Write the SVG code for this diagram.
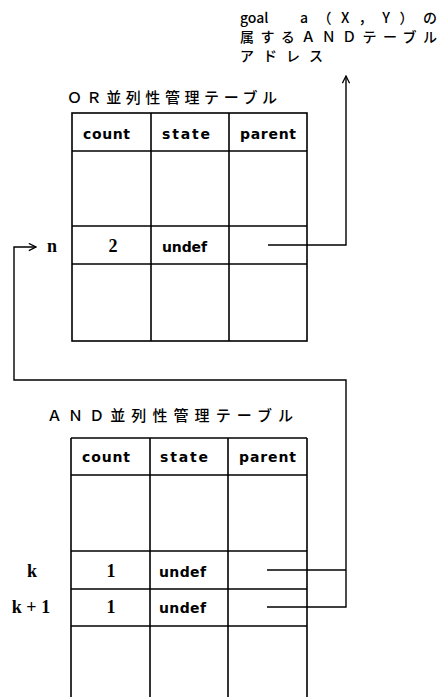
<svg xmlns="http://www.w3.org/2000/svg" width="440" height="697" viewBox="0 0 440 697">
<defs>
<style>
.bg{fill:#fff}
.grid{stroke:#000;stroke-width:1.6;fill:none}
.conn{stroke:#000;stroke-width:1.4;fill:none}
.jp{font-family:"Noto Sans CJK JP",sans-serif;font-size:15px;font-weight:500;fill:#000}
.lbl{font-size:14px}
.hd{font-family:"DejaVu Sans",sans-serif;font-size:14px;font-weight:bold;fill:#000}
.num{font-family:"Liberation Serif",serif;font-size:18px;font-weight:bold;fill:#000}
</style>
<marker id="ah" viewBox="0 0 10 10" refX="9" refY="5" markerWidth="9" markerHeight="9" markerUnits="userSpaceOnUse" orient="auto">
<path d="M1,1 L9,5 L1,9" fill="none" stroke="#000" stroke-width="1.4"/>
</marker>
</defs>
<rect class="bg" x="0" y="0" width="440" height="697"/>

<g id="goal-label">
<text class="jp lbl" x="240" y="23">goal</text>
<text class="jp lbl" x="300" y="23" textLength="137" lengthAdjust="spacing">a（X，Y）の</text>
<text class="jp lbl" x="240" y="42" textLength="197" lengthAdjust="spacing">属するＡＮＤテーブル</text>
<text class="jp lbl" x="240" y="61" textLength="83" lengthAdjust="spacing">アドレス</text>
</g>

<g id="or-table">
<text class="jp" x="67" y="103" font-size="16" textLength="210" lengthAdjust="spacing">ＯＲ並列性管理テーブル</text>
<rect class="grid" x="72" y="113" width="235" height="228"/>
<line class="grid" x1="72" y1="151" x2="307" y2="151"/>
<line class="grid" x1="72" y1="226" x2="307" y2="226"/>
<line class="grid" x1="72" y1="264" x2="307" y2="264"/>
<line class="grid" x1="151" y1="113" x2="151" y2="341"/>
<line class="grid" x1="229" y1="113" x2="229" y2="341"/>
<text class="hd" x="83" y="139" textLength="47" lengthAdjust="spacing">count</text>
<text class="hd" x="162" y="139" textLength="48" lengthAdjust="spacing">state</text>
<text class="hd" x="240" y="139" textLength="56" lengthAdjust="spacing">parent</text>
<text class="num" x="113" y="252" text-anchor="middle">2</text>
<text class="hd" x="162" y="252" textLength="45" lengthAdjust="spacing">undef</text>
<text class="num" x="47" y="252">n</text>
</g>

<g id="and-table">
<text class="jp" x="47" y="421" font-size="16" textLength="246" lengthAdjust="spacing">ＡＮＤ並列性管理テーブル</text>
<line class="grid" x1="71" y1="438" x2="307" y2="438"/>
<line class="grid" x1="71" y1="475" x2="307" y2="475"/>
<line class="grid" x1="71" y1="551" x2="307" y2="551"/>
<line class="grid" x1="71" y1="589" x2="307" y2="589"/>
<line class="grid" x1="71" y1="626" x2="307" y2="626"/>
<line class="grid" x1="71" y1="438" x2="71" y2="697"/>
<line class="grid" x1="150" y1="438" x2="150" y2="697"/>
<line class="grid" x1="228" y1="438" x2="228" y2="697"/>
<line class="grid" x1="307" y1="438" x2="307" y2="697"/>
<text class="hd" x="82" y="462" textLength="48" lengthAdjust="spacing">count</text>
<text class="hd" x="160" y="462" textLength="48" lengthAdjust="spacing">state</text>
<text class="hd" x="239" y="462" textLength="57" lengthAdjust="spacing">parent</text>
<text class="num" x="111" y="577" text-anchor="middle">1</text>
<text class="hd" x="159" y="577" textLength="47" lengthAdjust="spacing">undef</text>
<text class="num" x="111" y="613" text-anchor="middle">1</text>
<text class="hd" x="159" y="613" textLength="47" lengthAdjust="spacing">undef</text>
<text class="num" x="32" y="577" text-anchor="middle">k</text>
<text class="num" x="31" y="613" text-anchor="middle">k + 1</text>
</g>

<g id="connectors">
<polyline class="conn" points="268,245 346,245 346,76" marker-end="url(#ah)"/>
<polyline class="conn" points="267,570 346,570"/>
<polyline class="conn" points="267,607 346,607 346,380 14,380 14,247 36,247" marker-end="url(#ah)"/>
</g>
</svg>
